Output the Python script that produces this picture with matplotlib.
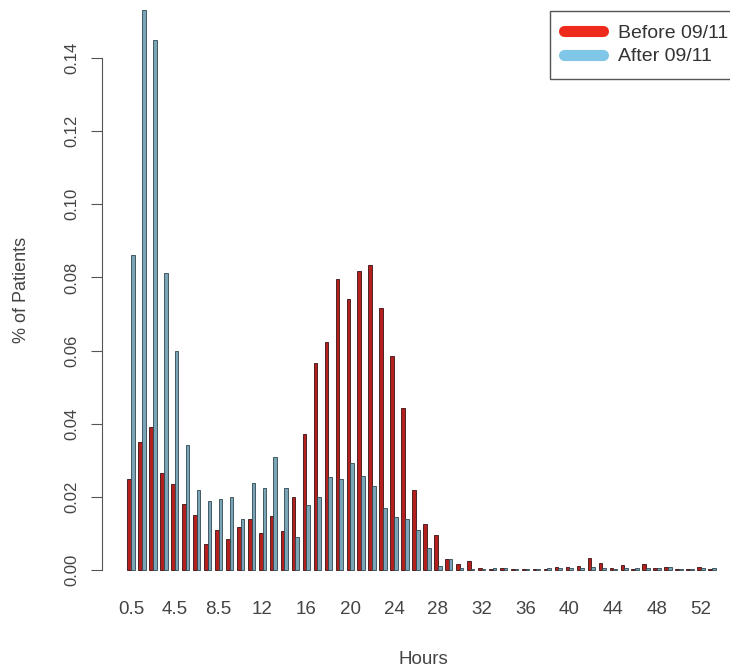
"""Barras agrupadas: % de pacientes por hora, antes y despues del 09/11."""

import matplotlib

matplotlib.use("Agg")
import matplotlib.pyplot as plt
import numpy as np
from matplotlib.lines import Line2D

plt.rcParams["font.family"] = ["Liberation Sans", "DejaVu Sans"]

# Valores (una entrada por grupo horario).
before = [0.0249, 0.0349, 0.0390, 0.0266, 0.0234, 0.0180, 0.0150, 0.0071, 0.0109, 0.0086,
          0.0118, 0.0140, 0.0101, 0.0149, 0.0107, 0.0200, 0.0373, 0.0567, 0.0623, 0.0795,
          0.0740, 0.0818, 0.0833, 0.0716, 0.0584, 0.0444, 0.0219, 0.0126, 0.0095, 0.0031,
          0.0016, 0.0024, 0.0005, 0.0004, 0.0005, 0.0004, 0.0003, 0.0003, 0.0004, 0.0008,
          0.0009, 0.0011, 0.0032, 0.0018, 0.0005, 0.0015, 0.0004, 0.0016, 0.0006, 0.0008,
          0.0004, 0.0003, 0.0009, 0.0004]
after = [0.0861, 0.1530, 0.1450, 0.0813, 0.0599, 0.0341, 0.0219, 0.0190, 0.0195, 0.0200,
         0.0139, 0.0237, 0.0223, 0.0310, 0.0224, 0.0091, 0.0177, 0.0200, 0.0253, 0.0249,
         0.0292, 0.0258, 0.0230, 0.0169, 0.0146, 0.0139, 0.0109, 0.0059, 0.0012, 0.0030,
         0.0005, 0.0003, 0.0004, 0.0005, 0.0005, 0.0003, 0.0003, 0.0003, 0.0005, 0.0005,
         0.0006, 0.0005, 0.0008, 0.0006, 0.0004, 0.0005, 0.0005, 0.0006, 0.0005, 0.0007,
         0.0003, 0.0003, 0.0005, 0.0005]
tick_labels = ["0.5", "4.5", "8.5", "12", "16", "20", "24", "28",
               "32", "36", "40", "44", "48", "52"]
y_ticks = [0.00, 0.02, 0.04, 0.06, 0.08, 0.10, 0.12, 0.14]

RED = "#b3201e"
BLUE = "#7aa5b7"

fig = plt.figure(figsize=(7.30, 6.71), dpi=100)
ax = fig.add_axes([110 / 730, 1 - 585 / 671, 615 / 730, 585 / 671])

x = np.arange(len(before))
w = 1 / 3
ax.bar(x - w / 2, before, width=w, color=RED, edgecolor="#3a1010", linewidth=0.6)
ax.bar(x + w / 2, after, width=w, color=BLUE, edgecolor="#2f4650", linewidth=0.6)

ax.set_xlim(-1.916, 54.2)
ax.set_ylim(-15 / 3657, 570 / 3657)

for side in ("top", "right", "bottom"):
    ax.spines[side].set_visible(False)
ax.spines["left"].set_position(("outward", 6))
ax.spines["left"].set_bounds(0, 0.14)
ax.spines["left"].set_color("#555555")

ax.set_yticks(y_ticks)
ax.set_yticklabels([f"{v:.2f}" for v in y_ticks], rotation=90, va="center",
                   fontsize=12, color="#444444")
ax.tick_params(axis="y", length=8, width=0.8, color="#555555", pad=8)

ax.set_xticks(x[::4])
ax.set_xticklabels(tick_labels, fontsize=13.5, color="#444444")
ax.tick_params(axis="x", length=0, pad=11.5)

fig.text(423 / 730, 1 - 660 / 671, "Hours", ha="center", va="center",
         fontsize=13.5, color="#444444")
fig.text(22 / 730, 1 - 290 / 671, "% of Patients", ha="center", va="center",
         rotation=90, fontsize=13, color="#444444")

handles = [
    Line2D([], [], color="#ee2a1c", lw=8, solid_capstyle="round"),
    Line2D([], [], color="#80c6e6", lw=8, solid_capstyle="round"),
]
leg = fig.legend(handles, ["Before 09/11", "After 09/11"], loc="upper left",
                 bbox_to_anchor=(550 / 730, 1 - 10.7 / 671), fontsize=14,
                 handlelength=2.0, handletextpad=0.8, labelspacing=0.3,
                 borderpad=0.7, borderaxespad=0, fancybox=False, framealpha=1)
leg.get_frame().set_edgecolor("#555555")
leg.get_frame().set_linewidth(1.0)
for t in leg.get_texts():
    t.set_color("#333333")

fig.savefig("out.png", dpi=100)
